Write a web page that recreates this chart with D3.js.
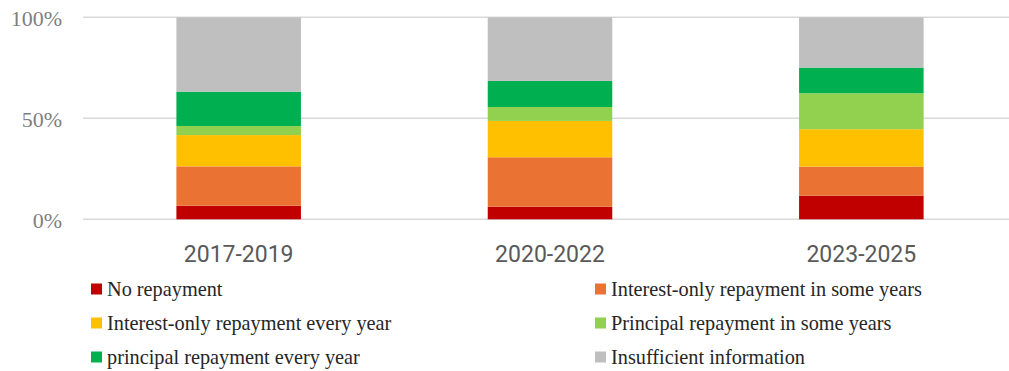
<!DOCTYPE html>
<html>
<head>
<meta charset="utf-8">
<script src="https://cdn.jsdelivr.net/npm/d3@7/dist/d3.min.js"></script>
<style>
  html, body { margin: 0; padding: 0; background: #fff; }
  svg { display: block; }
</style>
</head>
<body>
<svg id="chart" width="1009" height="371"></svg>
<script>
// Repayment status shares (%) per period
const periods = ["2017-2019", "2020-2022", "2023-2025"];
const seriesNames = [
  "No repayment",
  "Interest-only repayment in some years",
  "Interest-only repayment every year",
  "Principal repayment in some years",
  "principal repayment every year",
  "Insufficient information"
];
const noRepayment        = [6.7, 6.2, 11.7];
const interestSomeYears  = [19.5, 24.5, 14.4];
const interestEveryYear  = [15.5, 18.0, 18.5];
const principalSomeYears = [4.5, 6.9, 17.8];
const principalEveryYear = [17.0, 12.9, 12.7];
const insufficientInfo   = [36.8, 31.5, 24.9];
const yTicks = [0, 50, 100];

const colors = ["#c00000", "#ea7233", "#ffc000", "#92d050", "#00b050", "#bfbfbf"];
const seriesValues = [noRepayment, interestSomeYears, interestEveryYear,
                      principalSomeYears, principalEveryYear, insufficientInfo];

const rows = periods.map((p, i) => {
  const r = { period: p };
  seriesNames.forEach((s, k) => { r[s] = seriesValues[k][i]; });
  return r;
});

const svg = d3.select("#chart");

const x = d3.scaleBand().domain(periods).range([83, 1017]).paddingInner(0.6).paddingOuter(0.3);
const y = d3.scaleLinear().domain([0, 100]).range([219.3, 17.3]);

// Gridlines
svg.append("g").selectAll("line").data(yTicks).join("line")
  .attr("x1", 83).attr("x2", 1009)
  .attr("y1", d => y(d)).attr("y2", d => y(d))
  .attr("stroke", "#d9d9d9").attr("stroke-width", 1.5);

// Y axis labels
const yAxis = d3.axisLeft(y).tickValues(yTicks).tickFormat(d => d + "%").tickSize(0).tickPadding(0);
const yg = svg.append("g").attr("transform", "translate(62,0)").call(yAxis);
yg.select(".domain").remove();
yg.selectAll("text")
  .attr("font-family", "'Liberation Serif', serif")
  .attr("font-size", 22)
  .attr("fill", "#7f7f7f")
  .attr("dy", "0.36em");

// Stacked bars
const stack = d3.stack().keys(seriesNames);
const layers = stack(rows);
svg.append("g").selectAll("g").data(layers).join("g")
  .attr("fill", (d, i) => colors[i])
  .selectAll("rect").data(d => d).join("rect")
  .attr("x", d => x(d.data.period))
  .attr("width", x.bandwidth())
  .attr("y", d => y(d[1]))
  .attr("height", d => y(d[0]) - y(d[1]));

// X axis labels
const xAxis = d3.axisBottom(x).tickSize(0).tickPadding(0);
const xg = svg.append("g").attr("transform", "translate(0,262)").call(xAxis);
xg.select(".domain").remove();
xg.selectAll("text")
  .attr("font-family", "Roboto, sans-serif")
  .attr("font-size", 23)
  .attr("fill", "#595959")
  .attr("dy", 0);

// Legend
const legendPos = [[91, 289], [595, 289], [91, 323], [595, 323], [91, 357], [595, 357]];
const lg = svg.append("g").selectAll("g").data(seriesNames).join("g")
  .attr("transform", (d, i) => `translate(${legendPos[i][0]},${legendPos[i][1]})`);
lg.append("rect").attr("x", 0).attr("y", -5.5).attr("width", 11).attr("height", 11)
  .attr("fill", (d, i) => colors[i]);
lg.append("text").attr("x", 16).attr("y", 0).attr("dy", "0.33em")
  .attr("font-family", "'Liberation Serif', serif")
  .attr("font-size", 20.3)
  .attr("fill", "#262626")
  .text(d => d);
</script>
</body>
</html>
